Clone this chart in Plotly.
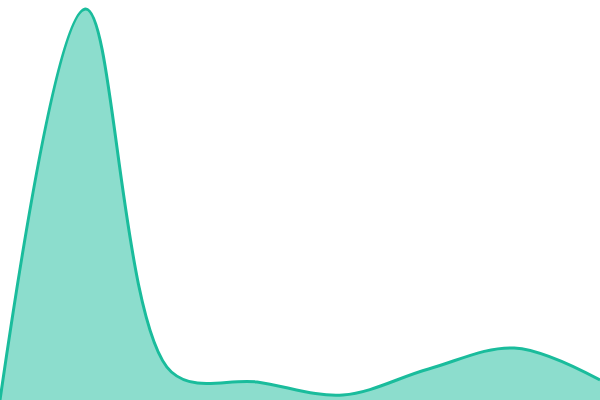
import plotly.graph_objects as go

# eight evenly spaced samples
x_vals = [0, 1, 2, 3, 4, 5, 6, 7]
y_vals = [0, 391, 28, 18, 5, 31, 52, 20]

fig = go.Figure()
fig.add_trace(go.Scatter(x=x_vals, y=y_vals, mode="lines",
                         line=dict(color="#1abc9c", width=3, shape="spline", smoothing=1),
                         fill="tozeroy", fillcolor="rgba(26,188,156,0.5)"))
fig.update_layout(width=600, height=400, margin=dict(l=0, r=0, t=0, b=0),
                  plot_bgcolor="white", paper_bgcolor="white", showlegend=False,
                  xaxis=dict(range=[0, 7], visible=False),
                  yaxis=dict(range=[0, 400], visible=False))
fig.write_html("out.html", config={"displayModeBar": False},
               post_script="document.body.style.margin='0';document.body.style.overflow='hidden';")
